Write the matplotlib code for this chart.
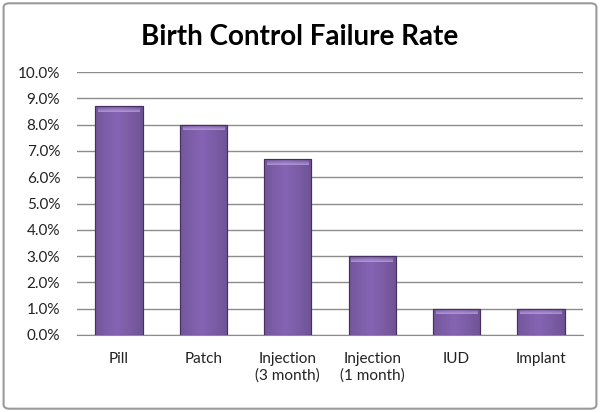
import matplotlib
matplotlib.use('Agg')
import matplotlib.pyplot as plt
import numpy as np
from matplotlib.patches import FancyBboxPatch
from matplotlib.ticker import FuncFormatter

categories = ['Pill', 'Patch', 'Injection\n(3 month)', 'Injection\n(1 month)', 'IUD', 'Implant']
rates = [8.7, 8.0, 6.7, 3.0, 1.0, 1.0]
yticks = np.arange(0, 10.1, 1.0)

plt.rcParams['font.family'] = ['Lato', 'DejaVu Sans']

fig = plt.figure(figsize=(6, 4.12), dpi=100)
ax = fig.add_axes([0.128, 0.187, 0.844, 0.638])

x = np.arange(len(categories))
bars = ax.bar(x, rates, width=0.56, color='#7b5ca6', edgecolor='#4a3566', linewidth=0.8, zorder=3)

# horizontal gradient + bevel to imitate the office style bars
grad = np.linspace(0, 1, 64)
shade = 1 - 0.35 * np.abs(grad - 0.45) ** 1.2
base = np.array([0x7b, 0x5c, 0xa6]) / 255.0
img = np.clip(base[None, None, :] * shade[None, :, None] * 1.08, 0, 1)
top = np.linspace(1, 0, 16)
for b in bars:
    x0, w, h = b.get_x(), b.get_width(), b.get_height()
    im = ax.imshow(img, extent=[x0, x0 + w, 0, h], aspect='auto', zorder=3.5, interpolation='bicubic')
    im.set_clip_path(b)
    # light bevel at the top of each bar
    hl = np.ones((16, 1, 4))
    hl[..., :3] = np.array([0xb8, 0xa2, 0xdc]) / 255.0
    hl[..., 3] = (top[::-1] * 0.85)[:, None]
    ax.imshow(hl, extent=[x0 + w * 0.06, x0 + w * 0.94, h - 0.22, h - 0.03], aspect='auto',
              zorder=4, interpolation='bicubic')
    ax.bar(b.get_x() + w / 2, h, width=w, fill=False, edgecolor='#45305f', linewidth=0.8, zorder=5)

ax.set_xlim(-0.5, len(categories) - 0.5)
ax.set_ylim(0, 10)
ax.set_yticks(yticks)
ax.yaxis.set_major_formatter(FuncFormatter(lambda v, p: f'{v:.1f}%'))
ax.set_xticks(x)
ax.set_xticklabels(categories)
ax.grid(axis='y', color='#8c8c8c', linewidth=1, zorder=0)
ax.set_axisbelow(True)
for s in ['top', 'right', 'left']:
    ax.spines[s].set_visible(False)
ax.spines['bottom'].set_color('#8c8c8c')
ax.tick_params(axis='both', length=0, labelsize=11, colors='#222222')
ax.tick_params(axis='x', pad=12)
ax.tick_params(axis='y', pad=12)

fig.text(0.5, 0.91, 'Birth Control Failure Rate', ha='center', va='center',
         fontsize=20, fontweight='bold', color='black')

border = FancyBboxPatch((0.006, 0.008), 0.988, 0.984, boxstyle='round,pad=0,rounding_size=0.01',
                        transform=fig.transFigure, fill=False, edgecolor='#9a9a9a', linewidth=1.5)
fig.patches.append(border)

fig.savefig('out.png', dpi=100)
